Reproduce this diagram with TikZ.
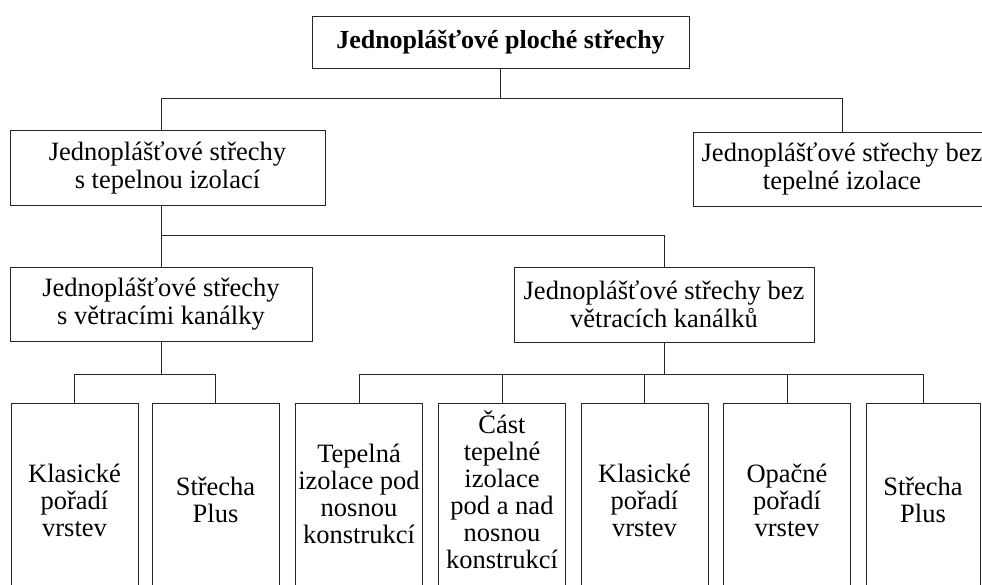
\documentclass[tikz,border=0pt]{standalone}
\usepackage{fontspec}
\setmainfont{Liberation Serif}
\begin{document}
\begin{tikzpicture}[x=1pt,y=1pt]
\tikzset{box/.style={draw=black!85,line width=0.9pt,rectangle,align=center,inner sep=0pt,font=\fontsize{26.5}{27.8}\selectfont}}
\tikzset{leaf/.style={box,minimum width=127pt,minimum height=194pt,font=\fontsize{26.5}{27}\selectfont}}
\tikzset{link/.style={draw=black!85,line width=0.9pt}}
\useasboundingbox (0,0) rectangle (982,-585);
\clip (0,0) rectangle (982,-585);
\node[box,minimum width=377pt,minimum height=52pt,font=\fontsize{26}{27.8}\selectfont\bfseries] (roof) at (500.5,-42) {Jednoplášťové ploché střechy};
\node[box,minimum width=315pt,minimum height=75pt] (sa) at (167.5,-168) {Jednoplášťové střechy\\s tepelnou izolací};
\node[box,minimum width=298pt,minimum height=74pt] (sb) at (842,-169) {Jednoplášťové střechy bez\\tepelné izolace};
\node[box,minimum width=302pt,minimum height=74pt] (va) at (161,-304) {Jednoplášťové střechy\\s větracími kanálky};
\node[box,minimum width=300pt,minimum height=75pt] (vb) at (664,-304.5) {Jednoplášťové střechy bez\\větracích kanálků};
\foreach \n/\x/\d/\t in {k1/74.5/0/{Klasické\\pořadí\\vrstev},
                         k2/215.5/0/{Střecha\\Plus},
                         k3/359/12/{Tepelná\\izolace pod\\nosnou\\konstrukcí},
                         k4/502/20/{Část\\tepelné\\izolace\\pod a nad\\nosnou\\konstrukcí},
                         k5/644.5/0/{Klasické\\pořadí\\vrstev},
                         k6/787/0/{Opačné\\pořadí\\vrstev}}
  \node[leaf,text depth=\d pt] (\n) at (\x,-500) {\t};
\node[leaf,minimum width=114pt] (k7) at (923,-500) {Střecha\\Plus};
\draw[link] (roof.south) -- ++(0,-30.5) -| (sa.north -| va.north);
\draw[link] (roof.south) -- ++(0,-30.5) -| (sb.north);
\draw[link] (sa.south -| va.north) -- (va.north);
\draw[link] (sa.south -| va.north) ++(0,-29.5) -| (vb.north);
\foreach \n in {k1,k2}
  \draw[link] (va.south) -- ++(0,-33) -| (\n.north);
\foreach \n in {k3,k4,k5,k6,k7}
  \draw[link] (vb.south) -- ++(0,-32) -| (\n.north);
\end{tikzpicture}
\end{document}
